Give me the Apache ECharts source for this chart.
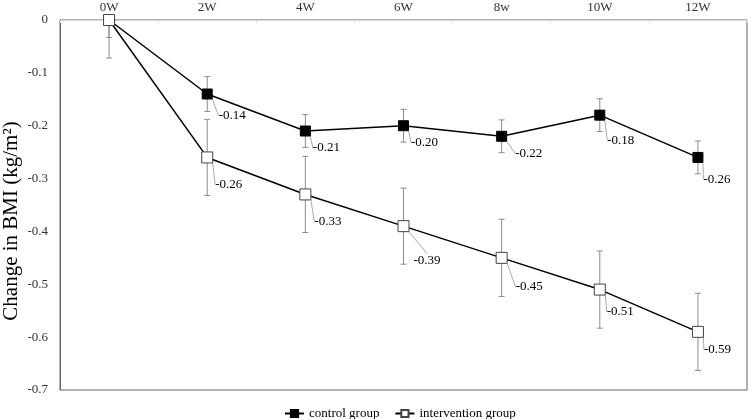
<!DOCTYPE html>
<html>
<head>
<meta charset="utf-8">
<script src="https://cdn.jsdelivr.net/npm/echarts@6/dist/echarts.min.js"></script>
<style>html,body{margin:0;padding:0;background:#fff;}#c{width:750px;height:419px;}</style>
</head>
<body>
<div id="c"></div>
<script>
var categories = ['0W', '2W', '4W', '6W', '8w', '10W', '12W'];
var controlValues = [0, -0.14, -0.21, -0.20, -0.22, -0.18, -0.26];
var interventionValues = [0, -0.26, -0.33, -0.39, -0.45, -0.51, -0.59];
var controlErrors = [0.033, 0.033, 0.031, 0.031, 0.031, 0.031, 0.031];
var interventionErrors = [0.072, 0.072, 0.072, 0.072, 0.073, 0.073, 0.073];
var yTicks = [0, -0.1, -0.2, -0.3, -0.4, -0.5, -0.6, -0.7];
var yAxisTitle = 'Change in BMI (kg/m²)';

// label placement (pixel shifts of value labels, not data)
var ctrlLabelShift = [[0,0],[4,22],[0,17],[0,17],[6,17],[0,25],[-2,22]];
var intLabelShift = [[0,0],[0,27],[1,27],[2,34],[6,29],[-1,22],[-2,18]];

var FONT = 'Liberation Serif';
var chart = echarts.init(document.getElementById('c'));

function errSeries(values, errors) {
  return {
    type: 'custom',
    silent: true,
    clip: true,
    z: 1,
    data: values.map(function (v, i) { return [i, v, errors[i]]; }),
    renderItem: function (params, api) {
      var i = api.value(0), v = api.value(1), e = api.value(2);
      var top = api.coord([i, v + e]);
      var bot = api.coord([i, v - e]);
      var hw = 3;
      var st = { stroke: '#8c8c8c', lineWidth: 1 };
      return {
        type: 'group',
        children: [
          { type: 'line', shape: { x1: top[0], y1: top[1], x2: bot[0], y2: bot[1] }, style: st },
          { type: 'line', shape: { x1: top[0] - hw, y1: top[1], x2: top[0] + hw, y2: top[1] }, style: st },
          { type: 'line', shape: { x1: bot[0] - hw, y1: bot[1], x2: bot[0] + hw, y2: bot[1] }, style: st }
        ]
      };
    }
  };
}

function labelLayoutFor(shifts) {
  return function (p) {
    if (p.dataIndex === 0) return {};
    var s = shifts[p.dataIndex];
    return { dx: s[0], dy: s[1] };
  };
}

chart.setOption({
  animation: false,
  textStyle: { fontFamily: FONT },
  grid: { left: 60, right: 3, top: 20, bottom: 29, show: true, borderColor: '#666', borderWidth: 1, containLabel: false, outerBoundsMode: 'none' },
  graphic: [{
    type: 'text',
    x: 11,
    y: 221,
    rotation: Math.PI / 2,
    style: {
      text: yAxisTitle,
      fontFamily: FONT,
      fontSize: 21,
      fill: '#000',
      align: 'center',
      verticalAlign: 'middle'
    }
  }],
  legend: {
    top: 402,
    left: 279,
    itemWidth: 19,
    itemHeight: 9,
    itemGap: 15,
    textStyle: { fontFamily: FONT, fontSize: 13, color: '#000' },
    data: ['control group', 'intervention group']
  },
  xAxis: {
    type: 'category',
    position: 'top',
    data: categories,
    boundaryGap: true,
    axisLine: { show: true, lineStyle: { color: '#d9d9d9' } },
    axisTick: { show: true, inside: true, length: 3, lineStyle: { color: '#d9d9d9' } },
    axisLabel: { fontFamily: FONT, fontSize: 13, color: '#333', margin: 6 },
    splitLine: { show: false }
  },
  yAxis: {
    type: 'value',
    min: -0.7,
    max: 0,
    interval: 0.1,
    axisLine: { show: true, lineStyle: { color: '#666' } },
    axisTick: { show: false },
    splitLine: { show: false },
    axisLabel: {
      fontFamily: FONT, fontSize: 13, color: '#333', margin: 12,
      formatter: function (v) {
        var r = Math.round(v * 10) / 10;
        for (var k = 0; k < yTicks.length; k++) if (Math.abs(yTicks[k] - r) < 1e-9) return r === 0 ? '0' : r.toFixed(1);
        return '';
      }
    }
  },
  series: [
    errSeries(controlValues, controlErrors),
    errSeries(interventionValues, interventionErrors),
    {
      name: 'control group',
      type: 'line',
      z: 3,
      data: controlValues,
      symbol: 'rect',
      symbolSize: 10,
      lineStyle: { color: '#000', width: 1.5 },
      itemStyle: { color: '#000', borderColor: '#000', borderWidth: 1 },
      label: {
        show: true, position: 'right', distance: 2,
        fontFamily: FONT, fontSize: 13, color: '#000',
        formatter: function (p) { return p.dataIndex === 0 ? '' : p.value.toFixed(2); }
      },
      labelLine: { show: true, lineStyle: { color: '#aaa', width: 1 } },
      labelLayout: labelLayoutFor(ctrlLabelShift)
    },
    {
      name: 'intervention group',
      type: 'line',
      z: 3,
      data: interventionValues,
      symbol: 'rect',
      symbolSize: 11,
      lineStyle: { color: '#000', width: 1.5 },
      itemStyle: { color: '#fff', borderColor: '#444', borderWidth: 1 },
      label: {
        show: true, position: 'right', distance: 2,
        fontFamily: FONT, fontSize: 13, color: '#000',
        formatter: function (p) { return p.dataIndex === 0 ? '' : p.value.toFixed(2); }
      },
      labelLine: { show: true, lineStyle: { color: '#aaa', width: 1 } },
      labelLayout: labelLayoutFor(intLabelShift)
    }
  ]
});
</script>
</body>
</html>
